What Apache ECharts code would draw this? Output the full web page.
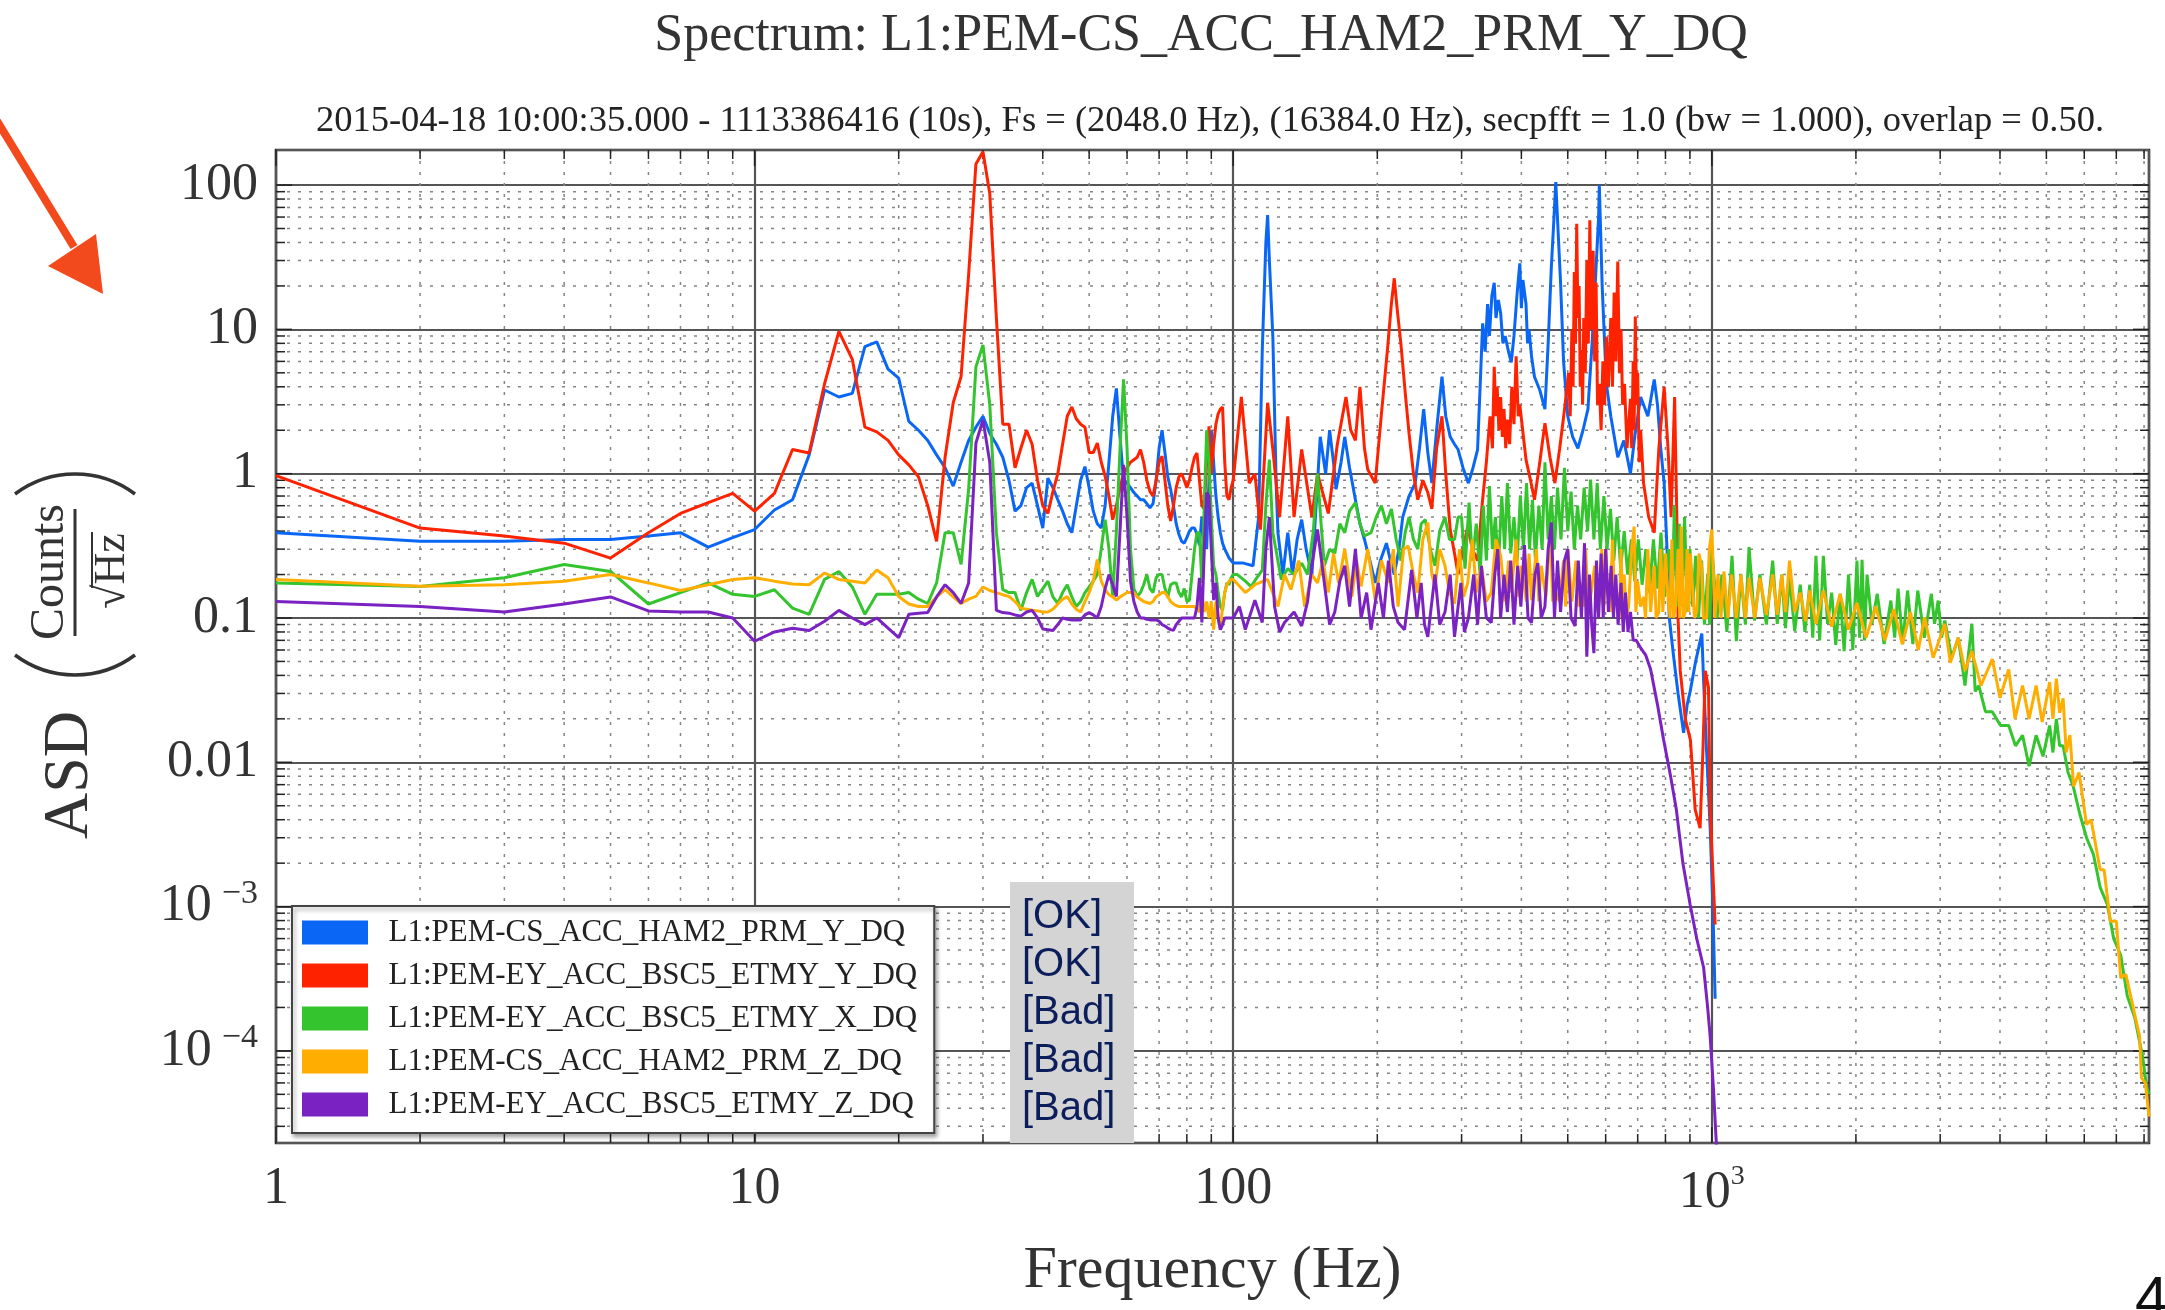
<!DOCTYPE html>
<html>
<head>
<meta charset="utf-8">
<script src="https://cdn.jsdelivr.net/npm/echarts@6/dist/echarts.min.js"></script>
<style>
html, body { margin: 0; padding: 0; background: #fff; }
#chart { width: 2165px; height: 1310px; }
</style>
</head>
<body>
<div id="chart"></div>
<script>
// channel names, legend order
var channels = [
  'L1:PEM-CS_ACC_HAM2_PRM_Y_DQ',
  'L1:PEM-EY_ACC_BSC5_ETMY_Y_DQ',
  'L1:PEM-EY_ACC_BSC5_ETMY_X_DQ',
  'L1:PEM-CS_ACC_HAM2_PRM_Z_DQ',
  'L1:PEM-EY_ACC_BSC5_ETMY_Z_DQ'
];
var colors = ['#0a66f5', '#ff2200', '#33c42e', '#ffae00', '#7b22c2'];
var statusLabels = ['[OK]', '[OK]', '[Bad]', '[Bad]', '[Bad]'];

var xLimits = [1, 8192];
var yLimits = [2.3e-5, 175];
var xTickValues = [1, 10, 100, 1000];
var xTickLabels = ['1', '10', '100', '{b|10}{s|3}'];
var yTickValues = [1e-4, 1e-3, 0.01, 0.1, 1, 10, 100];
var yTickLabels = ['{b|10}{s|\u22124}', '{b|10}{s|\u22123}', '0.01', '0.1', '1', '10', '100'];

var titleText = 'Spectrum: L1:PEM-CS_ACC_HAM2_PRM_Y_DQ';
var subtitleText = '2015-04-18 10:00:35.000 - 1113386416 (10s), Fs = (2048.0 Hz), (16384.0 Hz), secpfft = 1.0 (bw = 1.000), overlap = 0.50.';

// [frequency Hz, ASD]
var ham2PrmY = [[1,0.39],[2,0.34],[3,0.34],[4,0.35],[5,0.35],[6,0.37],[7,0.39],[8,0.31],[9,0.36],[10,0.41],[11,0.56],[12,0.66],[13,1.35],[14,3.8],[15,3.4],[16,3.6],[17,7.6],[18,8.2],[19,5.3],[20,4.6],[21,2.3],[22,2.0],[23,1.7],[24,1.35],[25,1.1],[26,0.82],[27,1.2],[28,1.7],[29,2.1],[30,2.5],[31,1.9],[32,1.6],[33,1.3],[34,0.9],[35,0.55],[36,0.6],[37,0.8],[38,0.86],[39,0.6],[40,0.42],[41,0.93],[42,0.8],[43,0.66],[44,0.55],[45,0.45],[46,0.39],[47,0.6],[48,0.9],[49,1.12],[50,0.8],[51,0.55],[52,0.45],[53,0.42],[54,0.6],[55,1.2],[56,2.5],[57,3.9],[58,1.8],[59,0.9],[60,0.86],[61,0.8],[62,0.74],[63,0.7],[64,0.66],[65,0.66],[66,0.62],[67,0.58],[68,0.62],[69,0.9],[70,1.5],[71,2.0],[72,1.4],[73,0.95],[74,0.78],[75,0.6],[76,0.45],[77,0.38],[78,0.34],[79,0.33],[80,0.36],[81,0.4],[82,0.42],[83,0.42],[84,0.38],[85,0.32],[86,0.5],[87,0.4],[88,0.3],[89,0.9],[90,2.0],[91,1.2],[92,0.7],[93,0.5],[94,0.39],[95,0.33],[96,0.3],[97,0.28],[98,0.26],[99,0.25],[100,0.24],
  [105,0.24],[110,0.23],[113,0.5],[115,7.2],[117,40],[118,62],[119,30],[121,8.9],[123,0.8],[124,0.39],[127,0.2],[130,0.39],[133,0.2],[136,0.35],[139,0.48],[142,0.3],[146,0.2],[149,0.6],[152,1.8],[156,1.0],[159,2.0],[162,1.2],[164,0.78],[168,1.2],[171,1.8],[175,1.1],[180,0.66],[184,0.45],[188,0.35],[193,0.25],[198,0.175],[203,0.25],[209,0.33],[213,0.25],[217,0.2],[222,0.3],[226,0.5],[233,0.7],[240,0.86],[245,1.5],[250,2.8],[255,1.4],[260,0.86],[266,2.0],[273,4.7],[278,2.5],[284,1.8],[290,1.6],[295,1.47],[302,1.1],[310,0.86],[317,1.1],[324,1.47],[328,4.0],[332,11],[336,7],[340,15],[343,9],[347,17],[351,21],[354,12],[358,16],[362,13],[366,8],[370,9],[376,7],[381,5.9],[386,9],[392,18],[397,28.7],[400,14],[403,22],[409,15],[412,8],[415,10],[420,6.5],[426,4.7],[437,3.8],[448,2.8],[455,8],[462,27],[468,60],[472,105],[477,50],[483,21],[490,6],[500,2.5],[512,1.8],[525,1.5],[538,2.0],[551,2.8],[562,8],[573,27],[580,60],[582,100],[590,20],[602,4.2],[615,2.5],[636,1.3],[655,1.7],[676,1.0],[690,1.8],[710,3.4],[735,2.5],[758,4.5],[770,3.0],[782,1.5],[795,0.86],[806,0.3],[815,0.1],[832,0.054],[850,0.03],[873,0.016],[888,0.025],[901,0.031],[925,0.05],[953,0.078],[961,0.037],[975,0.012],[992,0.0035],[1005,0.001],[1016,0.00023]];

var bsc5EtmyY = [[1,0.97],[2,0.42],[3,0.37],[4,0.33],[5,0.26],[6,0.39],[7,0.53],[8,0.63],[9,0.73],[10,0.55],[11,0.73],[12,1.47],[13,1.39],[14,4.2],[15,9.7],[16,6.2],[17,2.1],[18,1.95],[19,1.7],[20,1.35],[21,1.15],[22,0.95],[23,0.6],[24,0.34],[25,1.3],[26,3.1],[27,4.7],[28,24],[29,140],[30,170],[31,87],[32,12],[33,2.2],[34,2.2],[35,1.1],[36,1.5],[37,2.0],[38,1.6],[39,0.9],[40,0.6],[41,0.53],[42,0.75],[43,1.0],[44,1.6],[45,2.5],[46,2.9],[47,2.4],[48,2.2],[49,2.1],[50,1.4],[51,1.4],[52,1.63],[53,1.2],[54,0.96],[55,0.7],[56,0.48],[57,0.6],[58,0.8],[59,1.0],[60,1.1],[61,1.2],[62,1.25],[63,1.3],[64,1.47],[65,1.2],[66,0.9],[67,0.75],[68,0.7],[69,0.9],[70,1.2],[71,1.32],[72,0.9],[73,0.6],[74,0.47],[75,0.6],[76,0.8],[77,0.95],[78,1.0],[79,0.9],[80,0.8],[81,0.9],[82,1.1],[83,1.3],[84,1.39],[85,0.9],[86,0.6],[87,0.57],[88,1.2],[89,2.13],[90,1.0],[91,1.6],[92,2.2],[93,2.6],[94,2.8],[95,2.9],[96,1.2],[97,0.7],[98,0.66],[99,0.8],[100,0.9],
  [104,3.4],[108,0.86],[111,1.0],[114,0.41],[118,3.1],[121,1.47],[125,0.5],[130,2.5],[134,0.5],[139,1.47],[146,0.5],[150,1.0],[158,0.53],[165,1.6],[172,3.4],[176,2.0],[180,1.7],[184,4.0],[188,1.5],[191,1.07],[198,0.86],[204,2.6],[210,7.2],[214,15],[217,22.6],[220,14],[224,8.0],[229,3.5],[233,1.9],[238,1.0],[243,0.66],[249,0.9],[255,0.74],[260,0.57],[266,1.5],[273,2.5],[278,1.0],[284,0.41],[290,0.28],[295,0.2],[302,0.3],[309,0.43],[316,0.3],[324,0.25],[331,0.6],[338,1.2],[344,2.5],[348,1.5],[351,5.5],[354,2.5],[356,4.0],[359,2.0],[362,3.4],[365,1.8],[368,2.8],[371,1.5],[374,2.37],[378,1.6],[382,4.0],[386,2.2],[390,6.5],[394,2.5],[397,3.0],[409,1.25],[418,0.9],[426,0.66],[437,1.2],[448,2.24],[459,1.3],[470,0.86],[481,1.5],[493,2.9],[502,5.0],[506,2.5],[510,10],[513,4],[516,25],[519,8],[522,54],[525,12],[528,20],[531,4],[534,7.2],[537,3],[540,12],[544,5],[548,30],[552,8],[556,57],[560,10],[565,35],[569,6],[573,21],[577,3],[582,4.2],[587,2],[592,6],[597,3],[602,8.9],[608,4],[615,12],[620,4],[625,18],[630,6],[636,29.5],[641,5],[646,10],[651,3],[657,4.2],[665,1.5],[676,3.3],[680,1.5],[685,6],[688,2],[692,12.3],[696,3],[700,5],[705,1.2],[710,2.0],[720,0.86],[738,0.5],[758,0.39],[775,1.5],[795,4.0],[810,1.5],[822,0.5],[836,3.4],[845,0.5],[850,0.1],[859,0.043],[880,0.02],[902,0.0143],[923,0.0047],[945,0.0035],[958,0.012],[969,0.043],[984,0.033],[992,0.0047],[1008,0.00137],[1016,0.00075]];

var bsc5EtmyX = [[1,0.175],[2,0.165],[3,0.19],[4,0.235],[5,0.21],[6,0.125],[7,0.15],[8,0.175],[9,0.146],[10,0.141],[11,0.157],[12,0.117],[13,0.106],[14,0.185],[15,0.21],[16,0.164],[17,0.106],[18,0.146],[19,0.146],[20,0.146],[21,0.15],[22,0.135],[23,0.126],[24,0.175],[25,0.39],[26,0.39],[27,0.235],[28,0.78],[29,5.5],[30,7.8],[31,3.0],[32,0.39],[33,0.157],[34,0.15],[35,0.15],[36,0.113],[37,0.15],[38,0.185],[39,0.141],[40,0.16],[41,0.18],[42,0.14],[43,0.126],[44,0.15],[45,0.17],[46,0.14],[47,0.12],[48,0.13],[49,0.15],[50,0.164],[51,0.18],[52,0.2],[53,0.3],[54,0.48],[55,0.3],[56,0.141],[57,0.4],[58,1.47],[59,4.5],[60,1.5],[61,0.3],[62,0.16],[63,0.141],[64,0.15],[65,0.17],[66,0.2],[67,0.16],[68,0.15],[69,0.19],[70,0.2],[71,0.2],[72,0.16],[73,0.14],[74,0.17],[75,0.175],[76,0.175],[77,0.15],[78,0.14],[79,0.16],[80,0.13],[81,0.133],[82,0.2],[83,0.3],[84,0.39],[85,0.39],[86,0.175],[87,0.6],[88,2.0],[89,1.2],[90,0.5],[91,0.23],[92,0.2],[93,0.15],[94,0.12],[95,0.113],[96,0.15],[97,0.175],[98,0.17],[99,0.19],[100,0.2],
  [102,0.2],[106,0.18],[109,0.165],[112,0.19],[115,0.215],[117,0.6],[119,1.25],[121,0.39],[126,0.185],[130,0.22],[134,0.2],[139,0.24],[143,0.2],[147,0.4],[150,1.0],[153,0.4],[155,0.23],[159,0.3],[163,0.28],[167,0.45],[171,0.39],[175,0.55],[180,0.63],[184,0.45],[188,0.37],[194,0.39],[199,0.5],[204,0.6],[209,0.45],[214,0.57],[219,0.35],[224,0.25],[229,0.4],[233,0.5],[238,0.35],[243,0.3],[247,0.45],[252,0.48],[258,0.3],[264,0.23],[270,0.4],[277,0.5],[283,0.35],[290,0.35],[295,0.5],
  [300,0.5],[305,0.22],[311,0.63],[316,0.25],[322,0.45],[328,0.2],[333,0.6],[338,0.25],[343,0.82],[348,0.3],[353,0.5],[358,0.22],[364,0.7],[369,0.3],[374,0.86],[380,0.28],[386,0.5],[392,0.25],[398,0.7],[404,0.3],[410,0.86],[416,0.3],[422,0.66],[428,0.25],[435,0.6],[442,0.3],[448,1.2],[455,0.35],[462,0.7],[469,0.3],[476,0.8],[484,0.35],[492,1.1],[500,0.4],[508,0.75],[516,0.3],[524,0.6],[532,0.35],[541,0.8],[550,0.4],[558,0.91],[567,0.35],[576,0.86],[585,0.3],[595,0.7],[604,0.3],[614,0.57],[624,0.25],[634,0.5],[645,0.22],[656,0.4],[667,0.2],[679,0.35],[690,0.18],[702,0.35],[715,0.17],[728,0.3],[741,0.15],[755,0.35],[769,0.16],[783,0.39],[797,0.14],[812,0.3],[826,0.13],[835,0.6],[845,0.12],[855,0.45],[866,0.12],[877,0.5],[889,0.11],[900,0.3],[912,0.12],[925,0.27],[938,0.1],[952,0.25],[965,0.09],[980,0.2],[990,0.09],
  [1000,0.31],[1025,0.1],[1050,0.2],[1075,0.08],[1102,0.27],[1125,0.069],[1150,0.2],[1175,0.09],[1196,0.31],[1228,0.096],[1260,0.2],[1300,0.09],[1340,0.25],[1370,0.091],[1400,0.2],[1425,0.085],[1453,0.19],[1490,0.081],[1530,0.17],[1565,0.08],[1602,0.17],[1625,0.073],[1650,0.27],[1680,0.07],[1710,0.27],[1745,0.091],[1780,0.15],[1815,0.065],[1854,0.147],[1890,0.059],[1930,0.2],[1970,0.06],[2010,0.25],[2035,0.073],[2060,0.253],[2085,0.07],[2110,0.2],[2160,0.091],[2216,0.147],[2290,0.066],[2366,0.132],[2410,0.073],[2450,0.16],[2505,0.066],[2564,0.155],[2630,0.066],[2693,0.155],[2780,0.073],[2875,0.147],[2920,0.091],[2970,0.132],[3020,0.073],[3067,0.096],[3170,0.053],[3273,0.073],[3380,0.034],[3494,0.091],[3550,0.031],[3612,0.034],[3730,0.0224],[3854,0.0224],[4010,0.018],[4172,0.018],[4310,0.013],[4459,0.0154],[4600,0.0094],[4760,0.0154],[4920,0.011],[5079,0.018],[5160,0.0117],[5246,0.02],[5330,0.013],[5419,0.013],[5550,0.0085],[5690,0.0068],[5870,0.0044],[6066,0.003],[6270,0.0023],[6476,0.00136],[6700,0.00104],[6913,0.0006],[7150,0.00046],[7380,0.00024],[7650,0.00017],[7950,0.00009],[8100,0.000056],[8192,0.00005]];

var ham2PrmZ = [[1,0.185],[2,0.166],[3,0.17],[4,0.18],[5,0.2],[6,0.175],[7,0.155],[8,0.17],[9,0.185],[10,0.19],[11,0.18],[12,0.172],[13,0.17],[14,0.205],[15,0.185],[16,0.18],[17,0.175],[18,0.215],[19,0.19],[20,0.141],[21,0.125],[22,0.12],[23,0.12],[24,0.14],[25,0.157],[26,0.14],[27,0.126],[28,0.135],[29,0.141],[30,0.164],[31,0.155],[32,0.15],[33,0.145],[34,0.141],[35,0.13],[36,0.117],[37,0.115],[38,0.113],[39,0.112],[40,0.11],[41,0.11],[42,0.115],[43,0.125],[44,0.135],[45,0.141],[46,0.125],[47,0.115],[48,0.11],[49,0.13],[50,0.15],[51,0.18],[52,0.254],[53,0.18],[54,0.157],[55,0.145],[56,0.14],[57,0.133],[58,0.14],[59,0.145],[60,0.15],[61,0.15],[62,0.15],[63,0.14],[64,0.135],[65,0.13],[66,0.128],[67,0.126],[68,0.13],[69,0.14],[70,0.145],[71,0.15],[72,0.15],[73,0.14],[74,0.13],[75,0.125],[76,0.122],[77,0.12],[78,0.12],[79,0.12],[80,0.12],[81,0.12],[82,0.12],[83,0.12],[84,0.115],[85,0.11],[86,0.15],[87,0.11],[88,0.13],[89,0.1],[90,0.13],[91,0.083],[92,0.13],[93,0.1],[94,0.083],[95,0.12],[96,0.15],[97,0.17],[98,0.18],[99,0.185],[100,0.185],
  [106,0.15],[111,0.17],[118,0.185],[124,0.12],[128,0.2],[132,0.157],[137,0.25],[141,0.12],[146,0.2],[150,0.175],[154,0.25],[158,0.15],[162,0.28],[166,0.175],[171,0.3],[177,0.14],[181,0.25],[185,0.165],[191,0.3],[198,0.133],[204,0.25],[211,0.175],[216,0.3],[221,0.12],[227,0.3],[232,0.315],[238,0.2],[243,0.15],[249,0.35],[255,0.46],[260,0.2],[264,0.165],[270,0.3],[277,0.23],[283,0.15],[290,0.126],[297,0.3],[303,0.14],[309,0.175],[316,0.35],[322,0.15],[330,0.23],[338,0.13],[346,0.15],[354,0.35],[362,0.27],[370,0.13],[376,0.25],[381,0.15],[390,0.35],[395,0.14],[400,0.23],[410,0.13],[415,0.28],[420,0.133],[430,0.3],[435,0.13],[440,0.23],[450,0.14],[460,0.4],[465,0.13],[470,0.157],[480,0.13],[490,0.25],[495,0.12],[500,0.3],[510,0.13],[520,0.25],[527,0.12],[534,0.175],[540,0.12],[545,0.3],[552,0.12],[558,0.14],[569,0.23],[576,0.11],[582,0.13],[589,0.3],[595,0.12],[601,0.3],[606,0.15],[613,0.11],[620,0.35],[627,0.12],[635,0.15],[641,0.1],[646,0.3],[651,0.12],[656,0.2],[663,0.1],[670,0.12],[680,0.3],[688,0.43],[694,0.11],[700,0.18],[710,0.12],[720,0.14],[727,0.1],[735,0.3],[745,0.11],[758,0.23],[765,0.1],[775,0.11],[782,0.3],[790,0.11],[800,0.28],[810,0.14],[818,0.1],[825,0.35],[832,0.1],[840,0.12],[850,0.3],[857,0.1],[863,0.43],[872,0.1],[880,0.11],[888,0.3],[895,0.11],[902,0.28],[910,0.175],[920,0.1],[930,0.11],[940,0.28],[952,0.23],[960,0.1],[975,0.1],[988,0.3],
  [1000,0.41],[1015,0.1],[1030,0.2],[1045,0.1],[1060,0.21],[1080,0.1],[1100,0.2],[1125,0.1],[1150,0.2],[1175,0.1],[1196,0.19],[1230,0.1],[1260,0.19],[1300,0.105],[1340,0.2],[1370,0.105],[1400,0.2],[1425,0.11],[1453,0.25],[1490,0.11],[1530,0.15],[1570,0.095],[1602,0.155],[1650,0.091],[1710,0.155],[1780,0.087],[1854,0.147],[1930,0.083],[2010,0.127],[2100,0.073],[2200,0.12],[2300,0.07],[2400,0.115],[2500,0.066],[2600,0.11],[2700,0.06],[2783,0.101],[2900,0.053],[3067,0.091],[3150,0.049],[3273,0.073],[3380,0.043],[3494,0.059],[3650,0.034],[3854,0.052],[4000,0.028],[4172,0.044],[4300,0.02],[4459,0.034],[4600,0.02],[4760,0.034],[4900,0.019],[5079,0.036],[5160,0.02],[5246,0.038],[5330,0.022],[5420,0.0277],[5500,0.0117],[5600,0.0154],[5700,0.0068],[5850,0.0085],[6066,0.0037],[6200,0.004],[6476,0.0018],[6600,0.0018],[6800,0.00079],[7000,0.00079],[7150,0.00032],[7330,0.00034],[7500,0.00024],[7830,0.000126],[7900,0.000065],[8050,0.00006],[8192,0.000035]];

var bsc5EtmyZ = [[1,0.13],[2,0.12],[3,0.11],[4,0.125],[5,0.14],[6,0.112],[7,0.11],[8,0.11],[9,0.1],[10,0.069],[11,0.08],[12,0.085],[13,0.082],[14,0.095],[15,0.113],[16,0.1],[17,0.09],[18,0.1],[19,0.085],[20,0.073],[21,0.106],[22,0.108],[23,0.109],[24,0.14],[25,0.17],[26,0.15],[27,0.126],[28,0.175],[29,1.63],[30,2.36],[31,1.2],[32,0.113],[33,0.109],[34,0.108],[35,0.105],[36,0.103],[37,0.11],[38,0.113],[39,0.1],[40,0.084],[41,0.083],[42,0.082],[43,0.09],[44,0.1],[45,0.098],[46,0.097],[47,0.097],[48,0.097],[49,0.105],[50,0.109],[51,0.105],[52,0.1],[53,0.12],[54,0.16],[55,0.2],[56,0.17],[57,0.141],[58,0.4],[59,1.15],[60,0.5],[61,0.18],[62,0.13],[63,0.11],[64,0.1],[65,0.1],[66,0.098],[67,0.097],[68,0.097],[69,0.097],[70,0.095],[71,0.09],[72,0.088],[73,0.085],[74,0.083],[75,0.082],[76,0.09],[77,0.095],[78,0.1],[79,0.1],[80,0.1],[81,0.1],[82,0.1],[83,0.1],[84,0.12],[85,0.19],[86,0.093],[87,0.3],[88,0.74],[89,0.7],[90,0.3],[91,0.133],[92,0.175],[93,0.1],[94,0.083],[95,0.09],[96,0.1],[97,0.1],[98,0.1],[99,0.1],[100,0.1],
  [103,0.12],[106,0.083],[111,0.133],[115,0.093],[117,0.3],[119,0.5],[122,0.12],[125,0.08],[128,0.093],[134,0.11],[139,0.088],[143,0.13],[146,0.23],[150,0.41],[155,0.175],[159,0.09],[163,0.11],[167,0.18],[171,0.23],[175,0.12],[180,0.3],[185,0.1],[190,0.15],[194,0.083],[201,0.175],[206,0.1],[211,0.25],[216,0.12],[221,0.093],[228,0.083],[236,0.215],[242,0.1],[247,0.175],[251,0.09],[255,0.074],[264,0.2],[270,0.09],[277,0.11],[284,0.2],[290,0.074],[299,0.175],[304,0.08],[310,0.1],[318,0.2],[324,0.09],[330,0.23],[338,0.1],[346,0.093],[352,0.2],[357,0.3],[362,0.1],[368,0.2],[374,0.11],[380,0.25],[386,0.09],[393,0.23],[399,0.12],[406,0.32],[413,0.1],[420,0.093],[427,0.2],[433,0.24],[440,0.1],[448,0.12],[455,0.3],[462,0.46],[469,0.1],[476,0.25],[483,0.11],[492,0.25],[500,0.3],[508,0.1],[518,0.088],[526,0.25],[534,0.1],[542,0.33],[548,0.054],[555,0.2],[561,0.09],[567,0.057],[574,0.25],[580,0.1],[587,0.28],[593,0.1],[600,0.3],[608,0.11],[616,0.23],[623,0.1],[630,0.2],[637,0.09],[646,0.175],[653,0.08],[660,0.15],[668,0.08],[676,0.11],[685,0.07],[695,0.07],[710,0.062],[728,0.055],[745,0.044],[770,0.025],[793,0.0143],[820,0.008],[843,0.0047],[870,0.002],[901,0.00103],[930,0.0006],[961,0.00038],[980,0.0002],[992,0.000126],[1008,0.000054],[1024,0.00002]];

var seriesData = [ham2PrmY, bsc5EtmyY, bsc5EtmyX, ham2PrmZ, bsc5EtmyZ];

var serif = 'Liberation Serif';
var sans = 'Liberation Sans';

// grid line positions: 1..9 x 10^k inside the limits
function logTicks(lo, hi) {
  var out = [];
  for (var k = -6; k <= 4; k++) {
    for (var m = 1; m <= 9; m++) {
      var v = m * Math.pow(10, k);
      if (v >= lo * 0.999 && v <= hi * 1.001) out.push([v, m === 1 ? 1 : 0]);
    }
  }
  return out;
}
var xGrid = logTicks(xLimits[0], xLimits[1]);
var yGrid = logTicks(yLimits[0], yLimits[1]);

function tickLabel(values, labels) {
  return function (v) {
    for (var i = 0; i < values.length; i++) {
      if (Math.abs(Math.log10(v) - Math.log10(values[i])) < 1e-6) return labels[i];
    }
    return '';
  };
}

var minorStyle = { stroke: '#858585', lineWidth: 1.5, lineDash: [3, 8] };
var tickStyle = { stroke: '#222', lineWidth: 1.5 };

function renderVertical(params, api) {
  var f = api.value(0), major = api.value(2);
  var top = api.coord([f, yLimits[1]]);
  var bot = api.coord([f, yLimits[0]]);
  var len = major ? 16 : 9;
  var kids = [];
  if (!major) kids.push({ type: 'line', shape: { x1: top[0], y1: top[1], x2: bot[0], y2: bot[1] }, style: minorStyle });
  kids.push({ type: 'line', shape: { x1: top[0], y1: top[1], x2: top[0], y2: top[1] + len }, style: tickStyle });
  kids.push({ type: 'line', shape: { x1: bot[0], y1: bot[1], x2: bot[0], y2: bot[1] - len }, style: tickStyle });
  return { type: 'group', children: kids };
}

function renderHorizontal(params, api) {
  var v = api.value(1), major = api.value(2);
  var l = api.coord([xLimits[0], v]);
  var r = api.coord([xLimits[1], v]);
  var len = major ? 16 : 9;
  var kids = [];
  if (!major) kids.push({ type: 'line', shape: { x1: l[0], y1: l[1], x2: r[0], y2: r[1] }, style: minorStyle });
  kids.push({ type: 'line', shape: { x1: l[0], y1: l[1], x2: l[0] + len, y2: l[1] }, style: tickStyle });
  kids.push({ type: 'line', shape: { x1: r[0], y1: r[1], x2: r[0] - len, y2: r[1] }, style: tickStyle });
  return { type: 'group', children: kids };
}

var series = [
  {
    type: 'custom', silent: true, z: 1, clip: false,
    renderItem: renderVertical,
    encode: { x: 0, y: 1 },
    data: xGrid.map(function (d) { return [d[0], yLimits[0], d[1]]; })
  },
  {
    type: 'custom', silent: true, z: 1, clip: false,
    renderItem: renderHorizontal,
    encode: { x: 0, y: 1 },
    data: yGrid.map(function (d) { return [xLimits[0], d[0], d[1]]; })
  }
];
channels.forEach(function (name, i) {
  series.push({
    name: name,
    type: 'line',
    data: seriesData[i],
    showSymbol: false,
    symbol: 'none',
    z: 2,
    lineStyle: { width: 3, color: colors[i] },
    itemStyle: { color: colors[i] }
  });
});

// thin parentheses for the y label (arcs, radius 100)
var parenArc = 0.6435;

var chart = echarts.init(document.getElementById('chart'));
chart.setOption({
  animation: false,
  backgroundColor: '#fff',
  color: colors,
  grid: {
    left: 276, right: 16, top: 150, bottom: 167,
    show: true, borderColor: '#222', borderWidth: 2.5,
    outerBoundsMode: 'none'
  },
  xAxis: {
    type: 'log', logBase: 10, min: xLimits[0], max: xLimits[1],
    name: 'Frequency (Hz)', nameLocation: 'middle', nameGap: 98,
    nameTextStyle: { fontFamily: serif, fontSize: 60, color: '#333' },
    axisLine: { show: false },
    axisTick: { show: false },
    splitLine: { show: true, lineStyle: { color: '#555', width: 2.2 } },
    axisLabel: {
      margin: 20, fontFamily: serif, fontSize: 52, color: '#333',
      formatter: tickLabel(xTickValues, xTickLabels),
      rich: {
        b: { fontFamily: serif, fontSize: 52, color: '#333', lineHeight: 60 },
        s: { fontFamily: serif, fontSize: 28, color: '#333', lineHeight: 28, verticalAlign: 'top' }
      }
    }
  },
  yAxis: {
    type: 'log', logBase: 10, min: yLimits[0], max: yLimits[1],
    axisLine: { show: false },
    axisTick: { show: false },
    splitLine: { show: true, lineStyle: { color: '#555', width: 2.2 } },
    axisLabel: {
      margin: 18, fontFamily: serif, fontSize: 52, color: '#333',
      formatter: tickLabel(yTickValues, yTickLabels),
      rich: {
        b: { fontFamily: serif, fontSize: 52, color: '#333', lineHeight: 60 },
        s: { fontFamily: serif, fontSize: 34, color: '#333', lineHeight: 30, verticalAlign: 'top', padding: [0, 0, 0, 10] }
      }
    }
  },
  legend: {
    data: channels,
    orient: 'vertical',
    left: 292, top: 906,
    selectedMode: false,
    icon: 'rect',
    itemWidth: 66, itemHeight: 24, itemGap: 12,
    padding: [11, 17, 13, 10],
    backgroundColor: '#fff',
    borderColor: '#444', borderWidth: 2,
    shadowBlur: 4, shadowColor: 'rgba(0,0,0,0.35)', shadowOffsetX: 2, shadowOffsetY: 3,
    formatter: function (name) { return '  ' + name; },
    textStyle: { fontFamily: serif, fontSize: 31, color: '#222', lineHeight: 30 }
  },
  graphic: [
    { type: 'text', x: 1201, y: 36, style: { text: titleText, fontFamily: serif, fontSize: 52, fill: '#333', textAlign: 'center', textVerticalAlign: 'middle' } },
    { type: 'text', x: 1210, y: 121, style: { text: subtitleText, fontFamily: serif, fontSize: 36.5, fill: '#222', textAlign: 'center', textVerticalAlign: 'middle' } },
    {
      type: 'group', x: 76, y: 654, rotation: Math.PI / 2,
      children: [
        { type: 'text', x: -121, y: -6, style: { text: 'ASD', fontFamily: serif, fontSize: 64, fill: '#333', textAlign: 'center', textVerticalAlign: 'middle' } },
        { type: 'arc', shape: { cx: 79, cy: -1, r: 100, startAngle: Math.PI - parenArc, endAngle: Math.PI + parenArc }, style: { stroke: '#333', lineWidth: 3.5, fill: null } },
        { type: 'text', x: 82, y: -26, style: { text: 'Counts', fontFamily: serif, fontSize: 48, fill: '#333', textAlign: 'center', textVerticalAlign: 'middle' } },
        { type: 'line', shape: { x1: 18, y1: -1, x2: 145, y2: -1 }, style: { stroke: '#333', lineWidth: 3 } },
        { type: 'text', x: 83, y: 36, style: { text: '\u221AHz', fontFamily: serif, fontSize: 44, fill: '#333', textAlign: 'center', textVerticalAlign: 'middle' } },
        { type: 'line', shape: { x1: 66, y1: 16, x2: 122, y2: 16 }, style: { stroke: '#333', lineWidth: 2 } },
        { type: 'arc', shape: { cx: 80, cy: -1, r: 100, startAngle: -parenArc, endAngle: parenArc }, style: { stroke: '#333', lineWidth: 3.5, fill: null } }
      ]
    },
    { type: 'line', z: 100, shape: { x1: -6, y1: 116, x2: 74, y2: 247 }, style: { stroke: '#f24a1d', lineWidth: 8 } },
    { type: 'polygon', z: 100, shape: { points: [[103, 294], [48, 266], [96, 234]] }, style: { fill: '#f24a1d' } },
    { type: 'rect', z: 100, shape: { x: 1010, y: 882, width: 124, height: 261 }, style: { fill: '#d4d4d4' } },
    { type: 'text', z: 101, x: 1022, y: 893, style: { text: statusLabels.join('\n'), fontFamily: sans, fontSize: 40, lineHeight: 48, fill: '#0b1e5b', textVerticalAlign: 'top' } },
    { type: 'text', x: 2135, y: 1271, style: { text: '4', fontFamily: sans, fontSize: 60, fill: '#111', textVerticalAlign: 'top' } }
  ],
  series: series
});
</script>
</body>
</html>
